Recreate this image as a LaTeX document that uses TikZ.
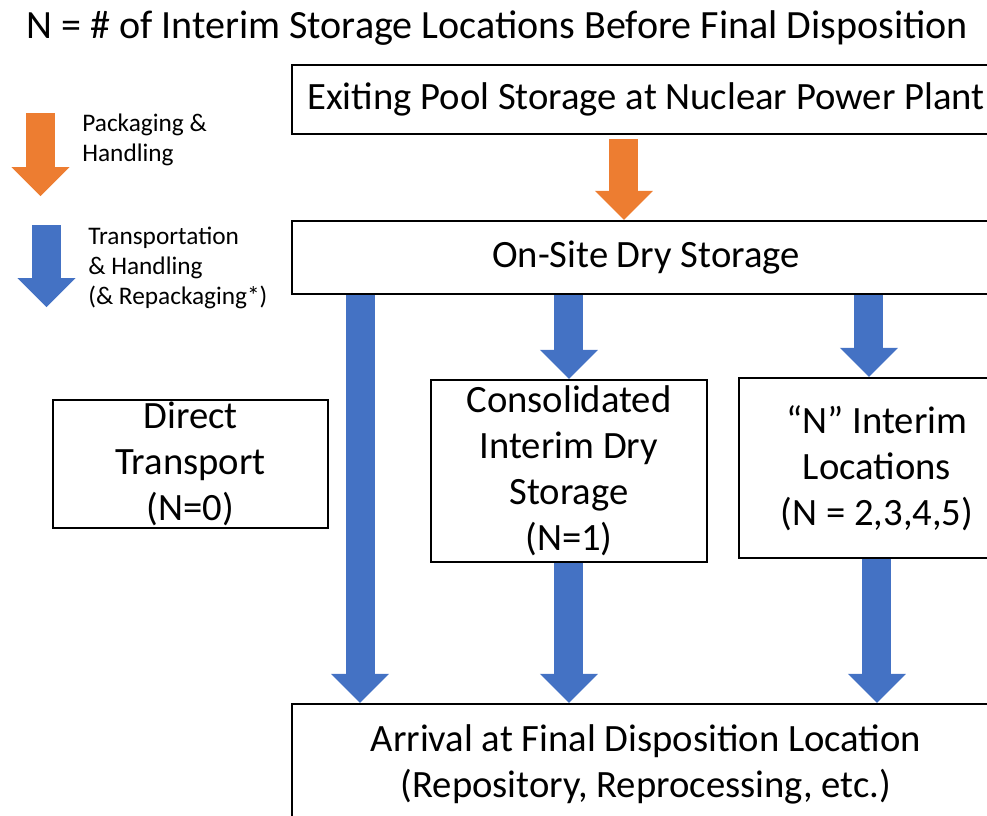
\documentclass[tikz,border=0pt]{standalone}
\usepackage{fontspec}
\setmainfont{Carlito}
\usetikzlibrary{arrows.meta, positioning, calc}
\definecolor{pkgorange}{HTML}{ED7D31}
\definecolor{trnblue}{HTML}{4472C4}

\begin{document}
\begin{tikzpicture}[font=\fontsize{22}{26.2}\selectfont,
  box/.style={draw=black, line width=1.1pt, fill=white, align=center, inner sep=0pt},
  legendtext/.style={anchor=west, align=left, inner sep=0pt, font=\fontsize{14.4}{17.2}\selectfont},
  pkgarrow/.style={draw=pkgorange, line width=0.58cm,
    -{Triangle[length=0.58cm, width=1.16cm, line width=0pt]}},
  trnarrow/.style={draw=trnblue, line width=0.58cm,
    -{Triangle[length=0.58cm, width=1.16cm, line width=0pt]}}]
  \useasboundingbox (0,0) rectangle (19.74,-16.3);

  \node[font=\fontsize{22.8}{26}\selectfont] (title) at (9.94,-0.56)
        {N = \# of Interim Storage Locations Before Final Disposition};

  \node[box, minimum width=14.16cm, minimum height=1.38cm, anchor=north west]
        (pool) at (5.82,-1.28) {Exiting Pool Storage at Nuclear Power Plant};
  \node[box, minimum width=14.16cm, minimum height=1.46cm,
        below=1.70cm of pool] (onsite) {On-Site Dry Storage};
  \node[box, minimum width=5.5cm, minimum height=2.56cm,
        below=2.08cm of onsite, xshift=-9.11cm] (direct) {Direct\\Transport\\(N=0)};
  \node[box, minimum width=5.52cm, minimum height=3.64cm,
        below=1.68cm of onsite, xshift=-1.54cm] (cons) {Consolidated\\Interim Dry\\Storage\\(N=1)};
  \node[box, minimum width=5.52cm, minimum height=3.6cm,
        below=1.64cm of onsite, xshift=4.62cm] (nint) {“N” Interim\\Locations\\(N = 2,3,4,5)};
  \node[box, minimum width=14.16cm, minimum height=2.44cm,
        below=8.16cm of onsite] (arrival) {Arrival at Final Disposition Location\\(Repository, Reprocessing, etc.)};

  % legend
  \coordinate (pkgtop) at (0.81,-2.26);
  \coordinate (pkgtip) at (0.81,-3.92);
  \coordinate (trntop) at (0.93,-4.5);
  \coordinate (trntip) at (0.93,-6.14);
  \draw[pkgarrow] (pkgtop) -- (pkgtip);
  \draw[trnarrow] (trntop) -- (trntip);
  \node[legendtext] (pkglbl) at (1.64,-2.8) {Packaging \&\\Handling};
  \node[legendtext] (trnlbl) at (1.76,-5.36) {Transportation\\\& Handling\\(\& Repackaging*)};

  % flow
  \draw[pkgarrow] ([xshift=-0.44cm, yshift=-0.08cm]pool.south) -- ([xshift=-0.44cm]onsite.north);
  \draw[trnarrow] ([xshift=1.38cm]onsite.south west) -- ([xshift=1.38cm]arrival.north west);
  \draw[trnarrow] (onsite.south -| cons.north) -- (cons.north);
  \draw[trnarrow] ($(onsite.south -| nint.north)+(-0.16,0)$) -- ([xshift=-0.16cm]nint.north);
  \draw[trnarrow] (cons.south) -- (cons.south |- arrival.north);
  \draw[trnarrow] (nint.south) -- (nint.south |- arrival.north);
\end{tikzpicture}
\end{document}
